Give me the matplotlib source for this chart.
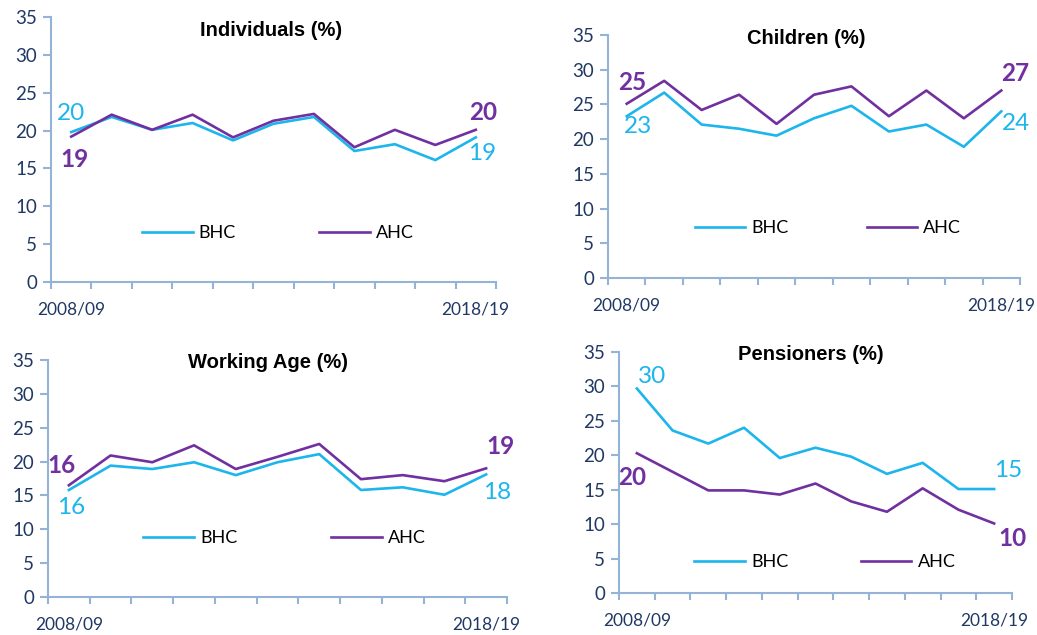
import matplotlib
matplotlib.use("Agg")
import matplotlib.pyplot as plt
import numpy as np

years = ["2008/09", "2009/10", "2010/11", "2011/12", "2012/13", "2013/14",
         "2014/15", "2015/16", "2016/17", "2017/18", "2018/19"]

ind_bhc = [19.8, 21.8, 20.1, 21.0, 18.7, 20.9, 21.8, 17.3, 18.2, 16.1, 19.1]
ind_ahc = [19.2, 22.1, 20.1, 22.1, 19.1, 21.3, 22.2, 17.8, 20.1, 18.1, 20.1]
chi_bhc = [23.3, 26.7, 22.1, 21.5, 20.5, 23.0, 24.8, 21.1, 22.1, 18.9, 24.0]
chi_ahc = [25.1, 28.4, 24.2, 26.4, 22.2, 26.4, 27.6, 23.3, 27.0, 23.0, 27.0]
wa_bhc = [15.8, 19.4, 18.9, 19.9, 18.0, 19.9, 21.1, 15.8, 16.2, 15.1, 18.1]
wa_ahc = [16.5, 20.9, 19.9, 22.4, 18.9, 20.7, 22.6, 17.4, 18.0, 17.1, 19.0]
pen_bhc = [29.7, 23.6, 21.7, 24.0, 19.6, 21.1, 19.8, 17.3, 18.9, 15.1, 15.1]
pen_ahc = [20.3, 17.6, 14.9, 14.9, 14.3, 15.9, 13.3, 11.8, 15.2, 12.1, 10.1]

titles = ["Individuals (%)", "Children (%)", "Working Age (%)", "Pensioners (%)"]
series_names = ["BHC", "AHC"]
yticks = [0, 5, 10, 15, 20, 25, 30, 35]

BHC_C = "#1CB5EC"
AHC_C = "#7030A0"
TICK_C = "#1F3864"
AX_C = "#95B3D7"

W, H = 1037, 635
fig = plt.figure(figsize=(W / 100, H / 100), dpi=100)

def px_rect(l, t, r, b):
    return [l / W, 1 - b / H, (r - l) / W, (b - t) / H]

panels = [
    dict(rect=px_rect(51, 17, 496, 282), bhc=ind_bhc, ahc=ind_ahc, title=titles[0],
         tpos=(271, 30), leg=(0.51, 0.185), colsp=4.6,
         labels=[("b", 0, (0, 19)), ("a", 0, (3, -23)), ("a", 10, (7, 17)), ("b", 10, (6, -16))]),
    dict(rect=px_rect(608, 35, 1020, 278), bhc=chi_bhc, ahc=chi_ahc, title=titles[1],
         tpos=(806, 38), leg=(0.534, 0.206), colsp=4.3,
         labels=[("a", 0, (5, 21)), ("b", 0, (11, -10)), ("a", 10, (14, 17)), ("b", 10, (15, -12))]),
    dict(rect=px_rect(48, 360, 507, 597), bhc=wa_bhc, ahc=wa_ahc, title=titles[2],
         tpos=(268, 363), leg=(0.516, 0.249), colsp=5.2,
         labels=[("a", 0, (-7, 20)), ("b", 0, (2, -17)), ("a", 10, (14, 22)), ("b", 10, (11, -18))]),
    dict(rect=px_rect(619, 352, 1012, 593), bhc=pen_bhc, ahc=pen_ahc, title=titles[3],
         tpos=(811, 355), leg=(0.524, 0.129), colsp=4.0,
         labels=[("b", 0, (15, 12)), ("a", 0, (-5, -24)), ("b", 10, (14, 19)), ("a", 10, (18, -15))]),
]

x = np.arange(len(years))
for p in panels:
    ax = fig.add_axes(p["rect"])
    ax.plot(x, p["bhc"], color=BHC_C, lw=1.9, label=series_names[0])
    ax.plot(x, p["ahc"], color=AHC_C, lw=1.9, label=series_names[1])
    ax.set_xlim(-0.5, len(years) - 0.5)
    ax.set_ylim(0, 35)
    ax.set_yticks(yticks)
    ax.set_xticks([0, len(years) - 1])
    ax.set_xticklabels([years[0], years[-1]])
    ax.set_xticks(np.arange(-0.5, len(years)), minor=True)
    for s in ["top", "right"]:
        ax.spines[s].set_visible(False)
    for s in ["left", "bottom"]:
        ax.spines[s].set_color(AX_C)
        ax.spines[s].set_linewidth(1.5)
    ax.tick_params(axis="x", which="major", length=0, pad=14, labelsize=12.5,
                   labelcolor=TICK_C)
    ax.tick_params(axis="x", which="minor", length=5, width=1.5, color=AX_C, direction="out")
    ax.tick_params(axis="y", length=6, width=1.5, color=AX_C, labelsize=13.5,
                   labelcolor=TICK_C, pad=4)
    for lab in ax.get_xticklabels() + ax.get_yticklabels():
        lab.set_fontfamily("Lato")
    ax.patch.set_alpha(0)

    fig.text(p["tpos"][0] / W, 1 - p["tpos"][1] / H, p["title"], ha="center", va="center",
             fontsize=14.5, fontweight="bold", family="Liberation Sans", color="black")

    leg = ax.legend(loc="center", bbox_to_anchor=p["leg"], ncol=2, frameon=False,
                    handlelength=2.8, handletextpad=0.35, columnspacing=p["colsp"],
                    prop={"family": "Lato", "size": 13})
    for t in leg.get_texts():
        t.set_color("black")

    for which, idx, off in p["labels"]:
        vals = p["bhc"] if which == "b" else p["ahc"]
        col = BHC_C if which == "b" else AHC_C
        fw = "normal" if which == "b" else "bold"
        ax.annotate(f"{vals[idx]:.0f}", xy=(idx, vals[idx]), xytext=off,
                    textcoords="offset pixels", ha="center", va="center",
                    fontsize=17.5, color=col, fontweight=fw, family="Lato",
                    annotation_clip=False)

fig.savefig("out.png", dpi=100)
